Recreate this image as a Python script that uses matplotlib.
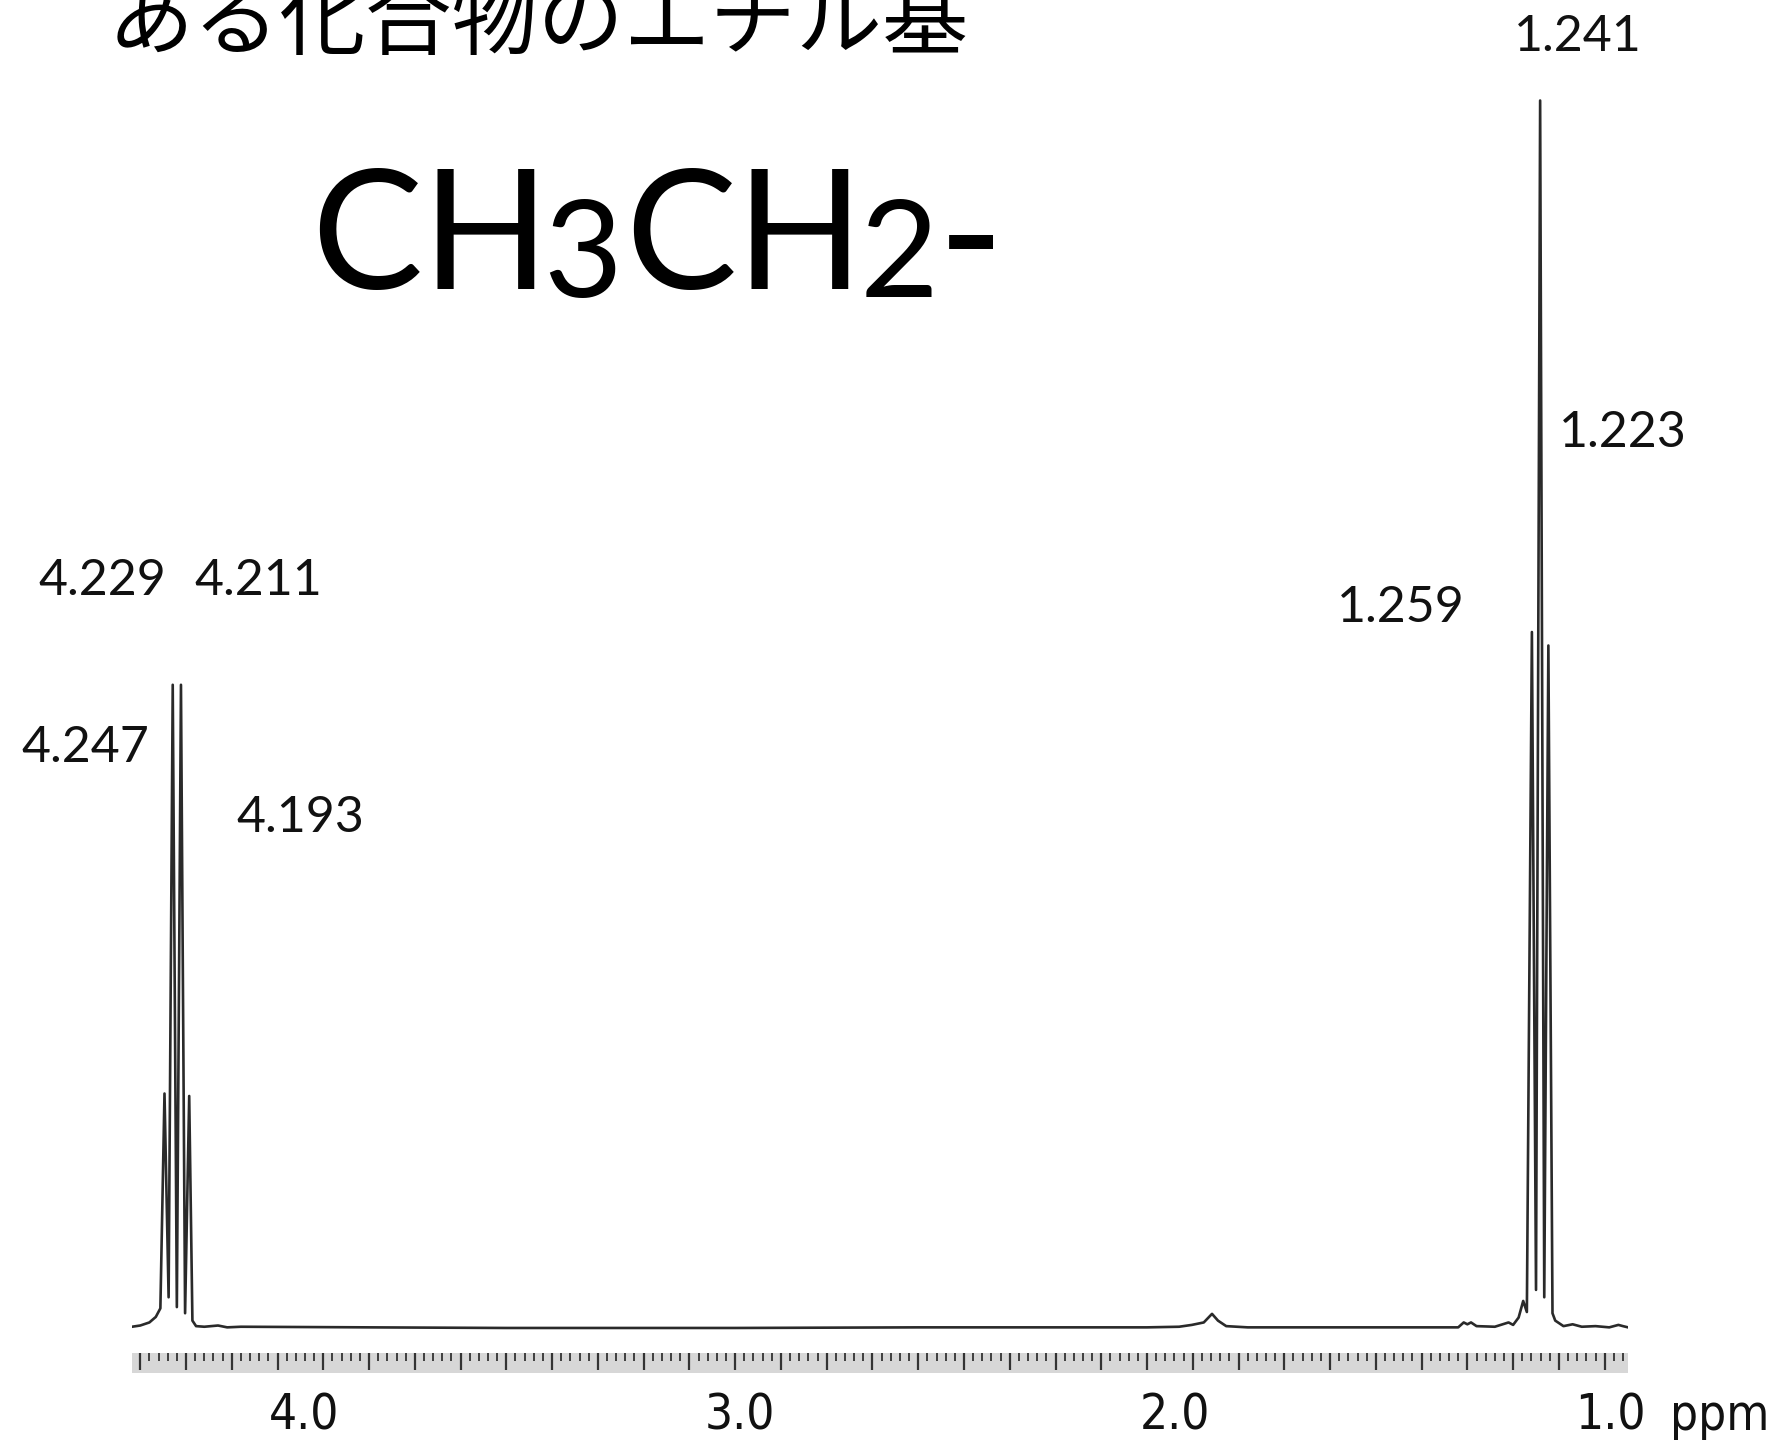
import numpy as np
import matplotlib

matplotlib.use("Agg")
import matplotlib.pyplot as plt
from matplotlib.ticker import MultipleLocator
from matplotlib.transforms import blended_transform_factory

W, H = 1776, 1443

TITLE = "ある化合物のエチル基"

# peak picks printed on the chart (ppm)
quartet_ppm = [4.247, 4.229, 4.211, 4.193]
triplet_ppm = [1.259, 1.241, 1.223]

# spectrum trace: ppm and intensity (tallest line = 100)
trace_ppm = [
    4.318, 4.300, 4.280, 4.266, 4.256,
    4.247, 4.238, 4.229, 4.220, 4.211, 4.202, 4.193,
    4.186, 4.178, 4.160, 4.130, 4.110, 4.080,
    3.800, 3.500, 3.000, 2.600, 2.300, 2.100,
    2.030, 2.002, 1.976, 1.958, 1.945, 1.927, 1.880,
    1.700, 1.420, 1.408, 1.400, 1.392, 1.380, 1.340,
    1.310, 1.300, 1.288, 1.278, 1.270,
    1.259, 1.250, 1.241, 1.232, 1.223,
    1.214, 1.208, 1.200, 1.190, 1.170, 1.150, 1.120, 1.090, 1.070, 1.060, 1.049,
]
trace_int = [
    0.10, 0.20, 0.45, 0.90, 1.6,
    19.1, 2.5, 52.4, 1.7, 52.4, 1.2, 18.9,
    0.6, 0.15, 0.10, 0.20, 0.05, 0.10,
    0.05, 0.0, 0.0, 0.05, 0.05, 0.05,
    0.10, 0.25, 0.45, 1.15, 0.60, 0.15, 0.05,
    0.05, 0.05, 0.45, 0.30, 0.45, 0.15, 0.10,
    0.45, 0.25, 0.85, 2.2, 1.3,
    56.7, 3.1, 100.0, 2.5, 55.6,
    1.2, 0.6, 0.4, 0.15, 0.3, 0.10, 0.15, 0.05, 0.25, 0.15, 0.05,
]

axis_labels = [4.0, 3.0, 2.0, 1.0]


def px(x, y):
    """figure pixel (from top-left) -> figure fraction"""
    return x / W, 1 - y / H


fig = plt.figure(figsize=(W / 100, H / 100), dpi=100)
fig.patch.set_facecolor("white")

# spectrum
ax = fig.add_axes([132 / W, (H - 1340) / H, 1496 / W, 1280 / H])
ax.plot(trace_ppm, trace_int, color="#2a2a2a", lw=1.9)
ax.set_xlim(4.318, 1.049)
ax.set_ylim(-0.98, 103.3)
ax.axis("off")

# gray ruler under the trace
rax = fig.add_axes([132 / W, (H - 1373) / H, 1496 / W, 20 / H])
rax.set_facecolor("#d7d7d7")
rax.set_xlim(4.318, 1.049)
rax.set_yticks([])
for s in rax.spines.values():
    s.set_visible(False)
rax.xaxis.set_major_locator(MultipleLocator(0.1))
rax.xaxis.set_minor_locator(MultipleLocator(0.02))
rax.tick_params(axis="x", which="both", top=True, bottom=False,
                labeltop=False, labelbottom=False, direction="in",
                color="#333333")
rax.tick_params(axis="x", which="major", length=12, width=1.6)
rax.tick_params(axis="x", which="minor", length=6, width=1.3)

# ppm labels: the scan's labels don't sit exactly on the ruler scale
lab_font = dict(fontsize=35.5, family=["Liberation Sans Narrow", "DejaVu Sans"],
                stretch="condensed", color="#111111")
lax = fig.add_axes([0, 0, 1, 54 / H])
lax.set_xlim(4.697, 0.621)
lax.set_ylim(0, 1)
lax.axis("off")
tr = blended_transform_factory(lax.transData, lax.transAxes)
for v in axis_labels:
    lax.text(v, 0.5, f"{v:.1f}", transform=tr, ha="center", va="center",
             **lab_font)
lax.text(1720 / W, 0.5, "ppm", transform=lax.transAxes, ha="center",
         va="center", **lab_font)

# title, partly cut off by the top edge (as in the scan)
fig.text(*px(108, 48), TITLE, ha="left", va="baseline", fontsize=62,
         family=["Noto Sans CJK JP"], color="black")

# big formula
big = dict(ha="left", va="baseline", color="black", family=["Lato"])
fig.text(*px(311, 289), "CH", fontsize=120, **big)
fig.text(*px(543, 297), "3", fontsize=98, **big)
fig.text(*px(625, 289), "CH", fontsize=120, **big)
fig.text(*px(860, 297), "2", fontsize=98, **big)
fig.text(*px(938, 296), "-", fontsize=128, **big)

# peak picks
pk = dict(ha="center", va="center", fontsize=36, family=["Lato"], color="#111111")
pick_xy = {
    1.241: (1578, 37),
    1.223: (1623, 433),
    1.259: (1401, 608),
    4.229: (102, 581),
    4.211: (258, 581),
    4.247: (85, 748),
    4.193: (300, 818),
}
for v in triplet_ppm + quartet_ppm:
    fig.text(*px(*pick_xy[v]), f"{v:.3f}", **pk)

fig.savefig("out.png", dpi=100)
